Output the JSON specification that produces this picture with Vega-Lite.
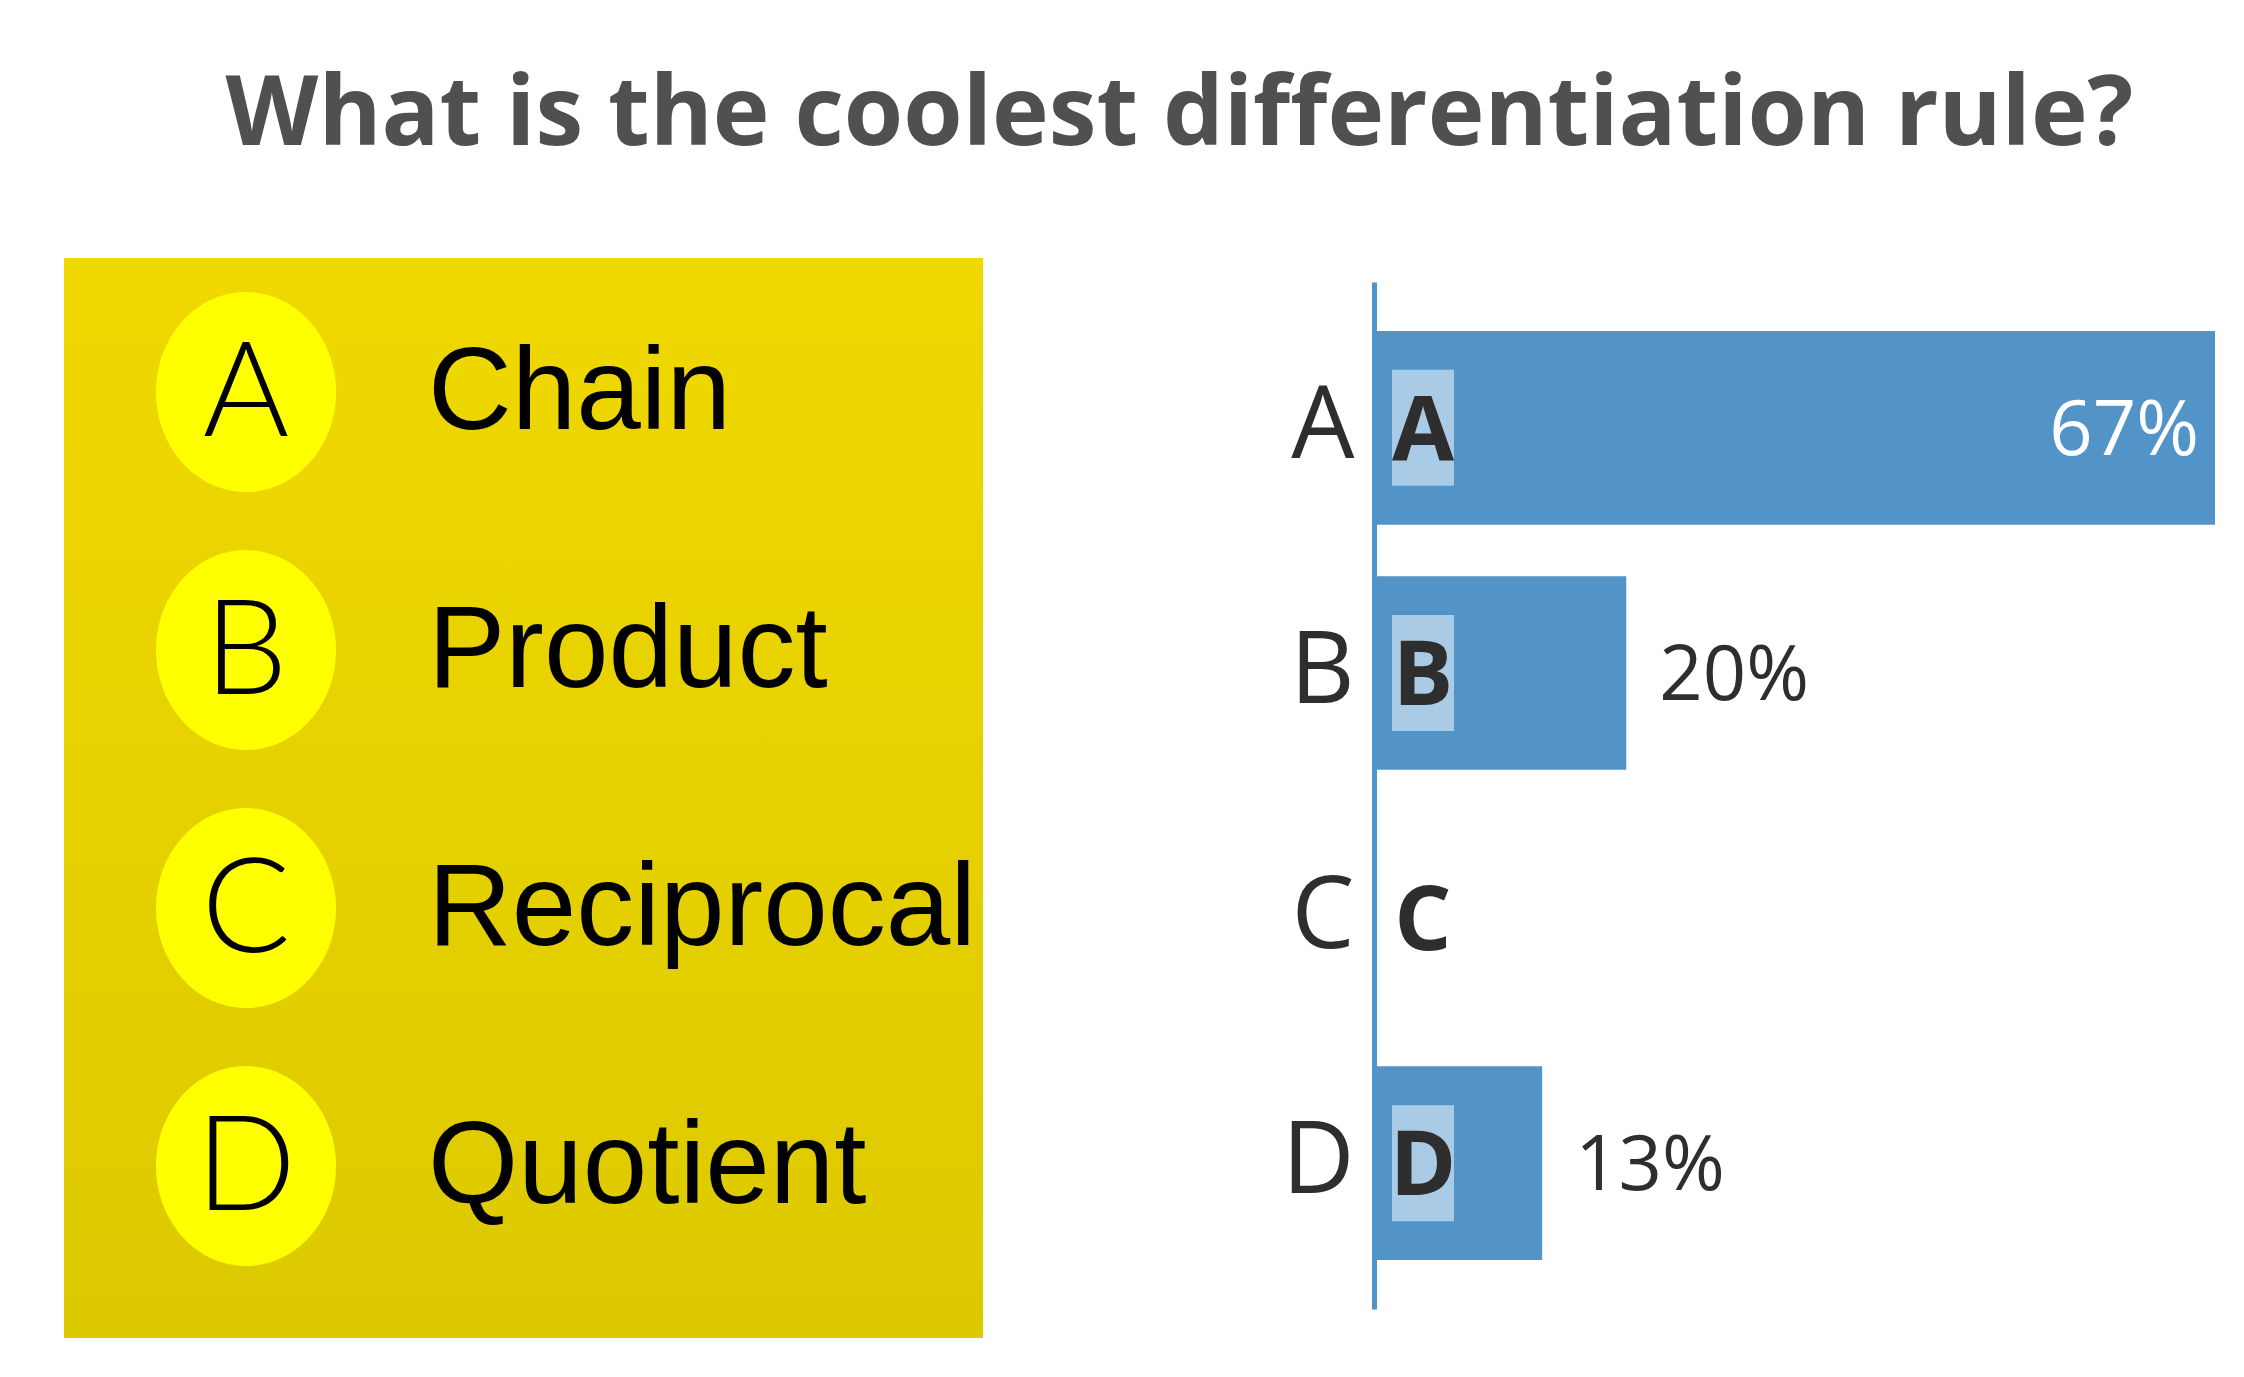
{
  "$schema": "https://vega.github.io/schema/vega-lite/v6.json",
  "background": "white",
  "padding": {"left": 64, "top": 68, "right": 0, "bottom": 0},
  "datasets": {
    "poll": [
      {"letter": "A", "rule": "Chain", "pct": 0.6667},
      {"letter": "B", "rule": "Product", "pct": 0.2},
      {"letter": "C", "rule": "Reciprocal", "pct": 0},
      {"letter": "D", "rule": "Quotient", "pct": 0.1333}
    ]
  },
  "title": {
    "text": "What is the coolest differentiation rule?",
    "font": "Open Sans",
    "fontWeight": "bold",
    "fontSize": 96,
    "color": "#505050",
    "anchor": "middle",
    "dx": 40,
    "offset": 93
  },
  "hconcat": [
    {
      "width": 919,
      "height": 1080,
      "view": {
        "stroke": null,
        "fill": {
          "gradient": "linear",
          "x1": 0, "y1": 0, "x2": 0, "y2": 1,
          "stops": [
            {"offset": 0, "color": "#f0d800"},
            {"offset": 1, "color": "#dcc900"}
          ]
        }
      },
      "data": {"name": "poll"},
      "encoding": {
        "y": {
          "field": "letter",
          "type": "nominal",
          "axis": null,
          "scale": {"type": "point", "padding": 0.593, "align": 0.438}
        }
      },
      "layer": [
        {
          "mark": {
            "type": "point",
            "shape": "M-0.9,0A0.9,1,0,1,0,0.9,0A0.9,1,0,1,0,-0.9,0Z",
            "size": 40000,
            "filled": true,
            "opacity": 1,
            "color": "#ffff00",
            "strokeWidth": 0
          },
          "encoding": {
            "x": {
              "datum": "letter",
              "type": "nominal",
              "axis": null,
              "scale": {"type": "point", "domain": ["letter", "rule"], "range": [182, 364], "padding": 0}
            }
          }
        },
        {
          "mark": {
            "type": "text",
            "font": "Lato",
            "fontWeight": 300,
            "fontSize": 132,
            "color": "#000000",
            "align": "center",
            "baseline": "middle",
            "dy": 4
          },
          "encoding": {
            "x": {"datum": "letter", "type": "nominal"},
            "text": {"field": "letter"}
          }
        },
        {
          "mark": {
            "type": "text",
            "font": "Liberation Sans",
            "fontSize": 116,
            "color": "#000000",
            "align": "left",
            "baseline": "middle",
            "dy": 2
          },
          "encoding": {
            "x": {"datum": "rule", "type": "nominal"},
            "text": {"field": "rule"}
          }
        }
      ]
    },
    {
      "width": 841,
      "height": 1080,
      "view": {"stroke": null},
      "data": {"name": "poll"},
      "encoding": {
        "y": {
          "field": "letter",
          "type": "nominal",
          "scale": {"paddingInner": 0.21, "paddingOuter": 0.2, "range": [24, 1051]},
          "axis": {
            "title": null,
            "ticks": false,
            "grid": false,
            "domainColor": "#5294c8",
            "domainWidth": 5,
            "labelFont": "Open Sans",
            "labelFontSize": 100,
            "labelColor": "#2e2e2e",
            "labelPadding": 20
          }
        }
      },
      "layer": [
        {
          "mark": {"type": "bar", "color": "#5294c8"},
          "encoding": {
            "x": {
              "field": "pct",
              "type": "quantitative",
              "axis": null,
              "scale": {"domain": [0, 0.6667], "nice": false}
            }
          }
        },
        {
          "transform": [{"filter": "datum.pct > 0"}],
          "mark": {
            "type": "point",
            "shape": "M0.31,-1L1.379,-1L1.379,1L0.31,1Z",
            "size": 13456,
            "filled": true,
            "opacity": 1,
            "color": "#aacbe6",
            "strokeWidth": 0
          },
          "encoding": {
            "x": {"datum": 0, "type": "quantitative"}
          }
        },
        {
          "mark": {
            "type": "text",
            "font": "Open Sans",
            "fontWeight": "bold",
            "fontSize": 90,
            "color": "#2e2e2e",
            "align": "center",
            "baseline": "middle",
            "dx": 49,
            "dy": 5
          },
          "encoding": {
            "x": {"datum": 0, "type": "quantitative"},
            "text": {"field": "letter"}
          }
        },
        {
          "transform": [{"filter": "datum.pct > 0.5"}],
          "mark": {
            "type": "text",
            "font": "Open Sans",
            "fontSize": 76,
            "color": "#ffffff",
            "align": "right",
            "baseline": "middle",
            "dx": -16,
            "dy": 4
          },
          "encoding": {
            "x": {"field": "pct", "type": "quantitative"},
            "text": {"field": "pct", "format": ".0%"}
          }
        },
        {
          "transform": [{"filter": "datum.pct > 0 && datum.pct <= 0.5"}],
          "mark": {
            "type": "text",
            "font": "Open Sans",
            "fontSize": 76,
            "color": "#2e2e2e",
            "align": "left",
            "baseline": "middle",
            "dx": 33,
            "dy": 4
          },
          "encoding": {
            "x": {"field": "pct", "type": "quantitative"},
            "text": {"field": "pct", "format": ".0%"}
          }
        }
      ]
    }
  ],
  "spacing": 391,
  "bounds": "flush"
}
